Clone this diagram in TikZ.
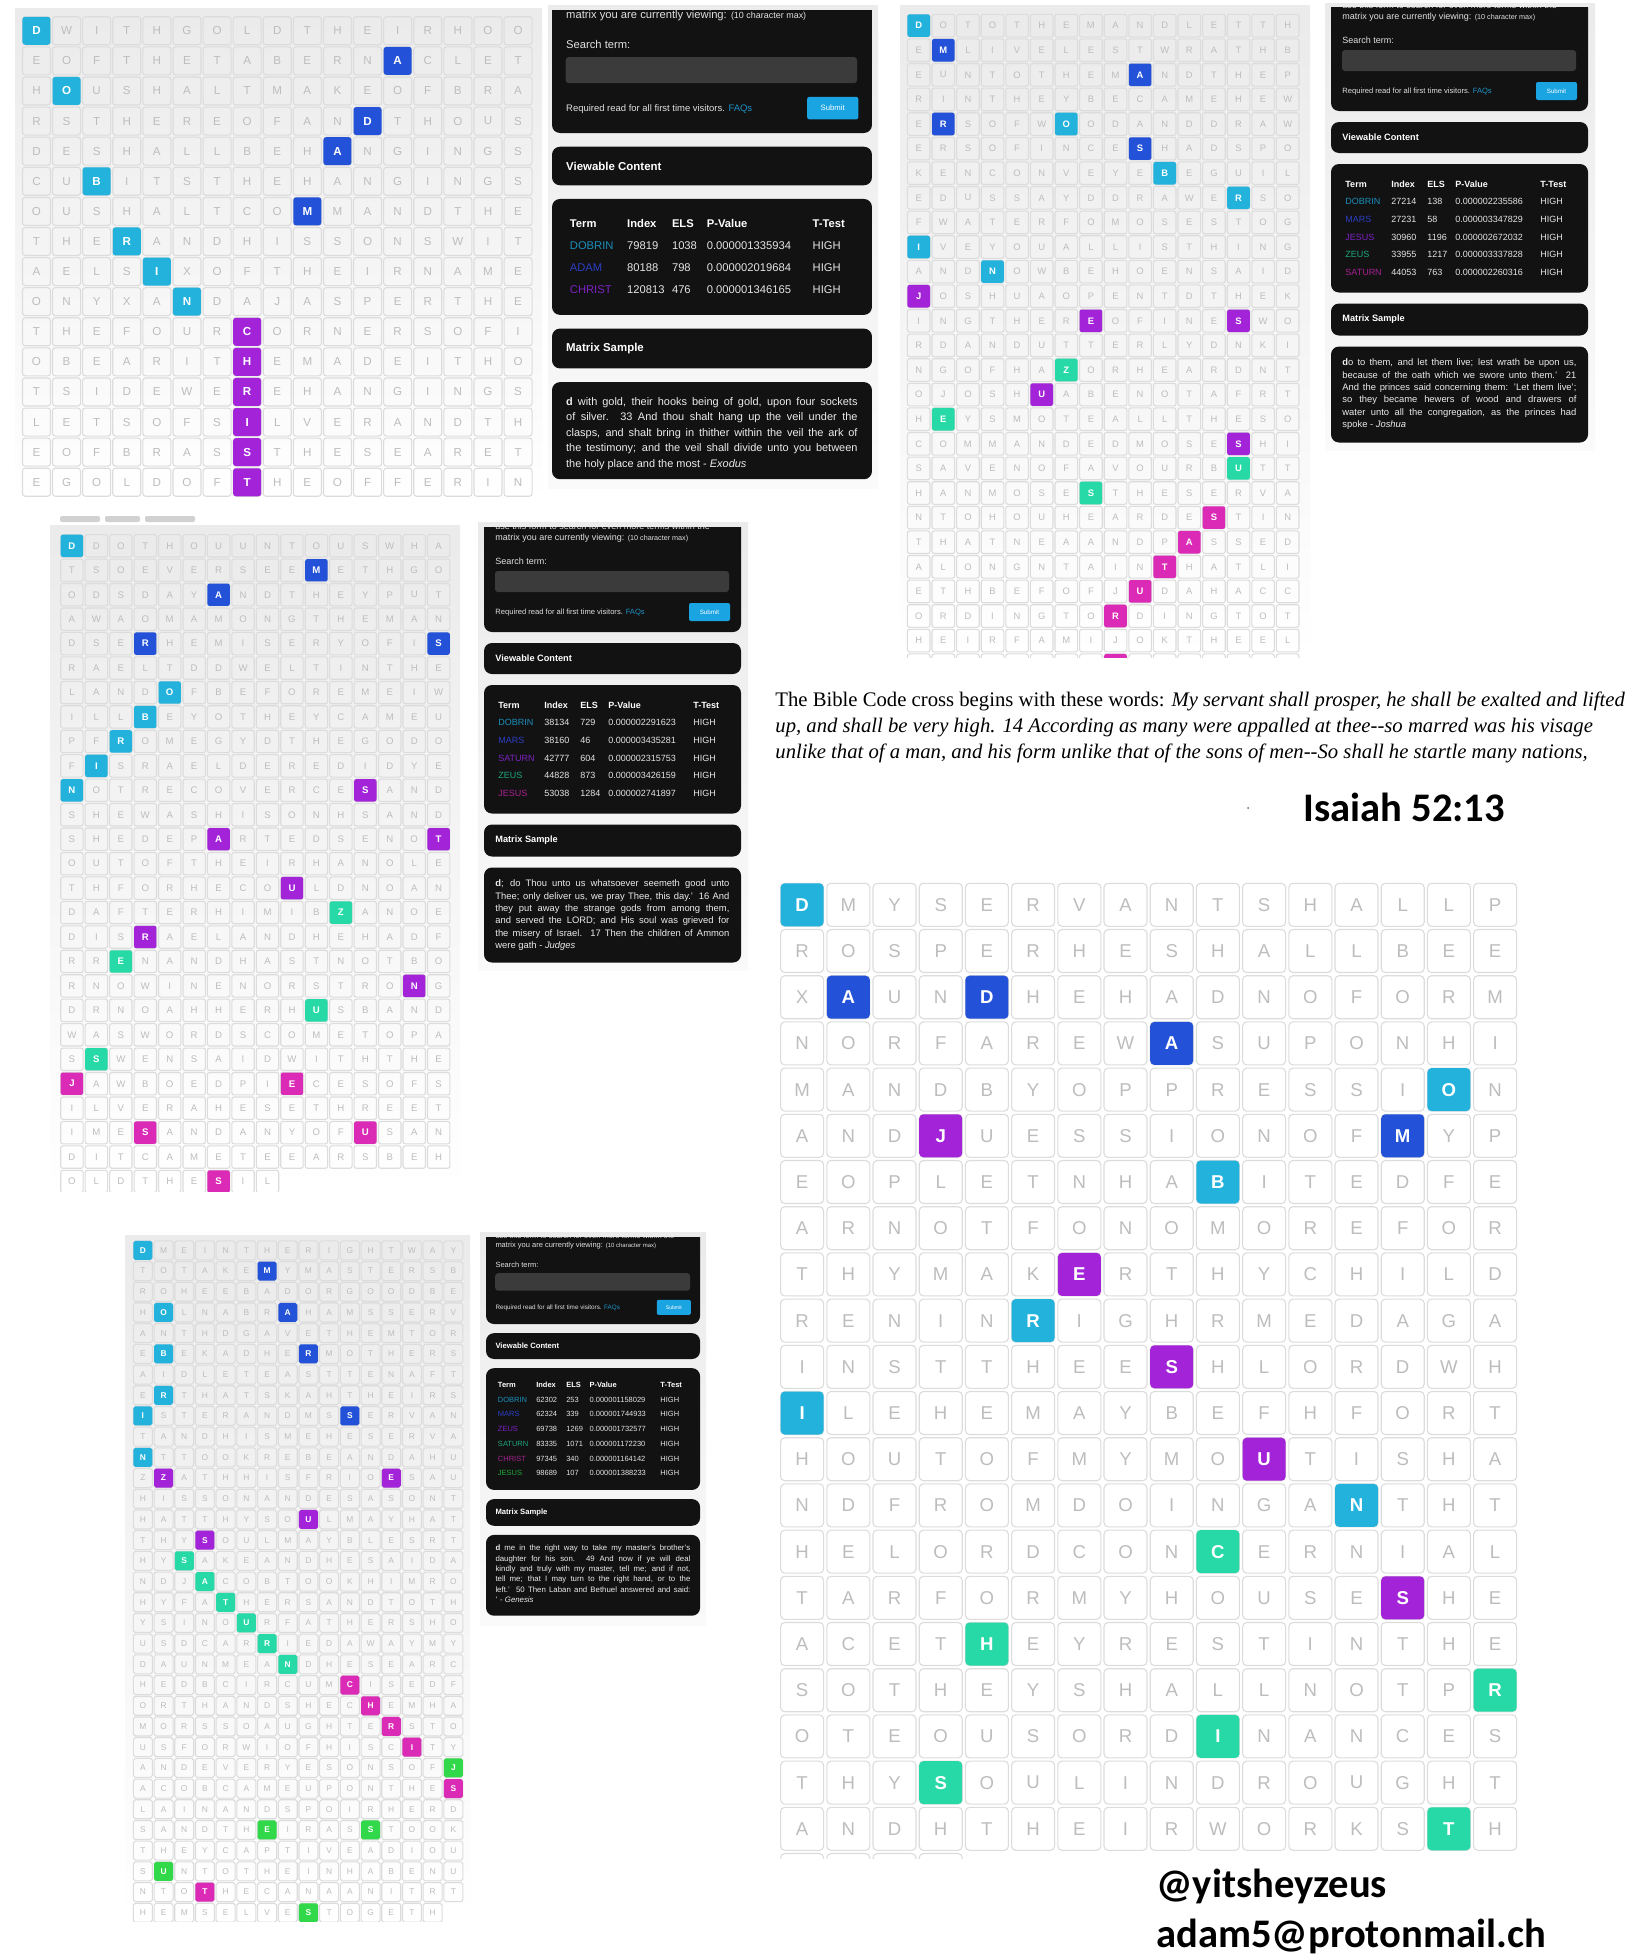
\documentclass[tikz,border=0pt]{standalone}
\usepackage{fontspec}
\setmainfont{Liberation Serif}
\setsansfont{Liberation Sans}
\newfontfamily\calibfont{Carlito}
\usetikzlibrary{positioning}

\definecolor{cellline}{HTML}{DCDCDC}
\definecolor{lettergray}{HTML}{BDBDBD}
\definecolor{dobrinC}{HTML}{22B2DC}
\definecolor{blueC}{HTML}{2352D8}
\definecolor{purpleC}{HTML}{A323D9}
\definecolor{tealC}{HTML}{26D9A6}
\definecolor{magentaC}{HTML}{DB2BB6}
\definecolor{greenC}{HTML}{30D84A}
\definecolor{panelbg}{HTML}{121212}
\definecolor{fieldbg}{HTML}{3B3B3B}
\definecolor{submitC}{HTML}{1AA4E2}
\definecolor{faqC}{HTML}{1E93C6}
% colours of the terms in the tables
\definecolor{dobrinT}{HTML}{1B8FBC}
\definecolor{blueT}{HTML}{2C3FC4}
\definecolor{purpleT}{HTML}{7E22C4}
\definecolor{tealT}{HTML}{1EA880}
\definecolor{magentaT}{HTML}{A82192}
\definecolor{greenT}{HTML}{22A838}

\newcount\gcol
\def\putletters#1{%
  \ifx#1\relax\else
    \global\advance\gcol by 1
    \node[gridcell] (\gname-\r-\the\gcol) at ({\gx+(\the\gcol-0.5)*\gp},{\gy+(\r-0.5)*\gp}) {#1};%
    \expandafter\putletters
  \fi}

% #1 name, #2 x, #3 y, #4 pitch, #5 cell size, #6 font size, #7 rows, #8 marked cells
\newcommand\lettergrid[8]{%
  \def\gname{#1}\def\gx{#2}\def\gy{#3}\def\gp{#4}\def\gs{#5pt}\def\gf{#6}%
  \pgfmathsetmacro\grad{#4*0.045}%
  \foreach \rowtext [count=\r] in {#7} {\global\gcol=0 \expandafter\putletters\rowtext\relax}
  \foreach \c/\r/\hc/\ch in {#8} {\node[hicell=\hc] (\gname-hi-\r-\c) at ({\gx+(\c-0.5)*\gp},{\gy+(\r-0.5)*\gp}) {\ch};}
}

\tikzset{
  gridcell/.style={draw=cellline, line width=0.55pt, rounded corners=\grad pt, minimum size=\gs, inner sep=0pt, text=lettergray, font=\sffamily\fontsize{\gf}{\gf}\selectfont},
  hicell/.style={fill=#1, rounded corners=\grad pt, minimum size=\gs, inner sep=0pt, text=white, font=\sffamily\bfseries\fontsize{\gf}{\gf}\selectfont},
  panelbox/.style={fill=panelbg, rounded corners=4pt},
  formtext/.style={text=white!88!black, font=\sffamily\fontsize{4.5}{5}\selectfont, inner sep=0pt, anchor=west},
  notetext/.style={text=white!88!black, font=\sffamily\fontsize{3.8}{4.5}\selectfont, inner sep=0pt, anchor=west},
  titletext/.style={text=white, font=\sffamily\bfseries\fontsize{4.6}{5}\selectfont, inner sep=0pt, anchor=west},
  headtext/.style={text=white, font=\sffamily\bfseries\fontsize{4.5}{5}\selectfont, inner sep=0pt, anchor=west},
  celltext/.style={text=white!90!black, font=\sffamily\fontsize{4.5}{5}\selectfont, inner sep=0pt, anchor=west},
  sampletext/.style={text=white!92!black, font=\sffamily\fontsize{4.7}{6.2}\selectfont, inner sep=0pt, anchor=north west, text width=117pt, align=justify},
  quote/.style={font=\fontsize{10.35}{12}\selectfont, inner sep=0pt, anchor=base west},
  tagtext/.style={font=\calibfont\bfseries\fontsize{20.3}{24}\selectfont, inner sep=0pt, anchor=base west}
}

% #1 name, #2 x, #3 y, #4 scale, #5 visible height of top box, #6 rows, #7 table, #8 sample height, #9 sample
\newcommand\sitepanel[9]{%
\begin{scope}[shift={(#2,#3)}, scale=#4, transform shape]
  \pgfmathsetmacro\tb{93+#6*17.7}
  \begin{scope}
    \clip (-5,-#5) rectangle (262,5);
    \fill[panelbox] (0,-140) rectangle (257,0);
    \node[formtext] (#1-use) at (11,-106) {use this form to search for even more terms within the};
    \node[formtext] (#1-view) at (11,-94) {matrix you are currently viewing: {\fontsize{3.6}{4}\selectfont (10 character max)}};
  \end{scope}
  \node[formtext] (#1-search) at (11,-71) {Search term:};
  \fill[fieldbg, rounded corners=1.5pt] (11,-61) rectangle (245,-40);
  \node[notetext] (#1-faq) at (11,-19) {Required read for all first time visitors. \textcolor{faqC}{FAQs}};
  \node[fill=submitC, rounded corners=1pt, minimum width=20.5pt, minimum height=9pt, inner sep=0pt, text=white, font=\sffamily\fontsize{3.1}{3.5}\selectfont] (#1-submit) at (225.5,-20) {Submit};
  \fill[panelbox] (0,11) rectangle (257,42);
  \node[titletext] (#1-vc) at (11,26.5) {Viewable Content};
  \fill[panelbox] (0,53) rectangle (257,\tb);
  \node[headtext] (#1-h1) at (14,73) {Term};
  \node[headtext] (#1-h2) at (60,73) {Index};
  \node[headtext] (#1-h3) at (96,73) {ELS};
  \node[headtext] (#1-h4) at (124,73) {P-Value};
  \node[headtext] (#1-h5) at (209,73) {T-Test};
  \foreach \term/\tc/\idx/\els/\pv [count=\i] in {#7} {
    \node[celltext, text=\tc] (#1-t\i) at (14,{73+\i*17.7}) {\term};
    \node[celltext] (#1-i\i) at (60,{73+\i*17.7}) {\idx};
    \node[celltext] (#1-e\i) at (96,{73+\i*17.7}) {\els};
    \node[celltext] (#1-p\i) at (124,{73+\i*17.7}) {\pv};
    \node[celltext] (#1-x\i) at (209,{73+\i*17.7}) {HIGH};
  }
  \fill[panelbox] (0,\tb+11) rectangle (257,\tb+43);
  \node[titletext] (#1-ms) at (11,\tb+27) {Matrix Sample};
  \fill[panelbox] (0,\tb+54) rectangle (257,\tb+54+#8);
  \node[sampletext] (#1-text) at (11,\tb+66) {#9};
\end{scope}}

\begin{document}
\begin{tikzpicture}[x=0.5pt, y=-0.5pt]
\useasboundingbox (0,0) rectangle (1636,1960);
\fill[white] (0,0) rectangle (1636,1960);

% light page backgrounds
\shade[top color=black!8, bottom color=white] (15,8) rectangle (542,505);
\shade[top color=black!8, bottom color=black!2] (548,5) rectangle (878,488);
\shade[top color=black!8, bottom color=white] (900,5) rectangle (1310,660);
\shade[top color=black!8, bottom color=black!2] (1325,3) rectangle (1595,450);
\shade[top color=black!8, bottom color=white] (50,525) rectangle (460,1192);
\shade[top color=black!8, bottom color=black!2] (478,522) rectangle (748,970);
\shade[top color=black!8, bottom color=white] (125,1235) rectangle (470,1921);
\shade[top color=black!8, bottom color=black!2] (480,1232) rectangle (706,1625);

% top left matrix
\lettergrid{tl}{21.4}{15.7}{30.1}{14}{5.8}{
DWITHGOLDTHEIRHOO,EOFTHETABERNACLET,HOUSHALTMAKEOFBRA,RSTHEREOFANDTHOUS,
DESHALLBEHANGINGS,CUBITSTHEHANGINGS,OUSHALTCOMMANDTHE,THERANDHISSONSWIT,
AELSIXOFTHEIRNAME,ONYXANDAJASPERTHE,THEFOURCORNERSOFI,OBEARITHEMADEITHO,
TSIDEWEREHANGINGS,LETSOFSILVERANDTH,EOFBRASSTHESEARET,EGOLDOFTHEOFFERIN}{
1/1/dobrinC/D,2/3/dobrinC/O,3/6/dobrinC/B,4/8/dobrinC/R,5/9/dobrinC/I,6/10/dobrinC/N,
13/2/blueC/A,12/4/blueC/D,11/5/blueC/A,10/7/blueC/M,
8/11/purpleC/C,8/12/purpleC/H,8/13/purpleC/R,8/14/purpleC/I,8/15/purpleC/S,8/16/purpleC/T}

\sitepanel{tlp}{552}{133}{1.245}{98}{3}{
DOBRIN/dobrinT/79819/1038/0.000001335934,
ADAM/blueT/80188/798/0.000002019684,
CHRIST/purpleT/120813/476/0.000001346165}{78}{\fontsize{4.4}{5.75}\selectfont
\textbf{d} with gold, their hooks being of gold, upon four sockets\linebreak
of silver. 33 And thou shalt hang up the veil under the\linebreak
clasps, and shalt bring in thither within the veil the ark of\linebreak
the testimony; and the veil shall divide unto you between\linebreak
the holy place and the most - \textit{Exodus}}

% top right matrix
\begin{scope}
\clip (900,0) rectangle (1310,657);
\lettergrid{tr}{906.4}{13.3}{24.6}{11.3}{4.7}{
DOTOTHEMANDLETTH,EMLIVELESTWRATHB,EUNTOTHEMANDTHEP,RINTHEYBECAMEHEW,
ERSOFWOODANDDRAW,ERSOFINCESHADSPO,KENCONVEYEBEGUIL,EDUSSAYDDRAWERSO,
FWATERFOMOSESTOG,IVEYOUALLISTHING,ANDNOWBEHOENSAID,JOSHUAOPENTDTHEK,
INGTHEREOFINESWO,RDANDUTTERLYDNKI,NGOFHAZORHEARDNT,OJOSHUABENOTAFRT,
HEYSMOTEALLTHESO,COMMANDEDMOSESHI,SAVENOFAVOURBUTT,HANMOSESTHESERVA,
NTOHOUHEARDESTIN,THATNEAANDPASSED,ALONGNTAINTHATLI,ETHBEFOFJUDAHACC,
ORDINGTORDINGTOT,HEIRFAMIJOKTHEEL}{
1/1/dobrinC/D,7/5/dobrinC/O,11/7/dobrinC/B,14/8/dobrinC/R,1/10/dobrinC/I,4/11/dobrinC/N,
2/2/blueC/M,10/3/blueC/A,2/5/blueC/R,10/6/blueC/S,
1/12/purpleC/J,8/13/purpleC/E,14/13/purpleC/S,6/16/purpleC/U,14/18/purpleC/S,
7/15/tealC/Z,2/17/tealC/E,14/19/tealC/U,8/20/tealC/S,
13/21/magentaC/S,12/22/magentaC/A,11/23/magentaC/T,10/24/magentaC/U,9/25/magentaC/R}
\foreach \c in {1,...,16}
  \node[gridcell] (tr-27-\c) at ({906.4+(\c-0.5)*24.6},{13.3+26.5*24.6}) {};
\node[hicell=magentaC] (tr-hi-27-9) at ({906.4+8.5*24.6},{13.3+26.5*24.6}) {};
\end{scope}

\sitepanel{trp}{1331}{111}{1}{104}{5}{
DOBRIN/dobrinT/27214/138/0.000002235586,
MARS/blueT/27231/58/0.000003347829,
JESUS/purpleT/30960/1196/0.000002672032,
ZEUS/tealT/33955/1217/0.000003337828,
SATURN/magentaT/44053/763/0.000002260316}{96}{%
\textbf{d}o to them, and let them live; lest wrath be upon us,\linebreak
because of the oath which we swore unto them.' 21\linebreak
And the princes said concerning them: 'Let them live';\linebreak
so they became hewers of wood and drawers of\linebreak
water unto all the congregation, as the princes had\linebreak
spoke - \textit{Joshua}}

% middle left matrix
\fill[black!18, rounded corners=1pt] (60,516) rectangle (100,522);
\fill[black!18, rounded corners=1pt] (105,516) rectangle (140,522);
\fill[black!18, rounded corners=1pt] (145,516) rectangle (195,522);
\begin{scope}
\clip (50,525) rectangle (460,1191);
\lettergrid{ml}{59.7}{533.6}{24.45}{11.2}{4.8}{
DDOTHOUUNTOUSWHA,TSOEVERSEEMETHGO,ODSDAYANDTHEYPUT,AWAOMAMONGTHEMAN,
DSERHEMISERYOFIS,RAELTDDWELTINTHE,LANDOFBEFOREMEIW,ILLBEYOTHEYCAMEU,
PFROMEGYDTHEGODO,FISRAELDEREDIDYE,NOTRECOVERCESAND,SHEWASHISONHSAND,
SHEDEPARTEDSENOT,OUTOFTHEIRHANOLE,THFORHECOULDNOAN,DAFTERHIMIBZANOE,
DISRAELANDHEHADF,RRENANDHASTNOTBO,RNOWINENORSTRONG,DRNOAHHERHUSBAND,
WASWORDSCOMETOPA,SSWENSAIDWITHTHE,JAWBOEDPIECESOFS,ILVERAHESETHREET,
IMESANDANYOFUSAN,DITCAMETEEARSBEH,OLDTHESIL}{
1/1/dobrinC/D,5/7/dobrinC/O,4/8/dobrinC/B,3/9/dobrinC/R,2/10/dobrinC/I,1/11/dobrinC/N,
11/2/blueC/M,7/3/blueC/A,4/5/blueC/R,16/5/blueC/S,
13/11/purpleC/S,7/13/purpleC/A,16/13/purpleC/T,10/15/purpleC/U,4/17/purpleC/R,15/19/purpleC/N,
12/16/tealC/Z,3/18/tealC/E,11/20/tealC/U,2/22/tealC/S,
1/23/magentaC/J,10/23/magentaC/E,4/25/magentaC/S,13/25/magentaC/U,7/27/magentaC/S}
\end{scope}

\sitepanel{mlp}{484}{632}{1}{105}{5}{
DOBRIN/dobrinT/38134/729/0.000002291623,
MARS/blueT/38160/46/0.000003435281,
SATURN/purpleT/42777/604/0.000002315753,
ZEUS/tealT/44828/873/0.000003426159,
JESUS/magentaT/53038/1284/0.000002741897}{95}{%
\textbf{d}; do Thou unto us whatsoever seemeth good unto\linebreak
Thee; only deliver us, we pray Thee, this day.' 16 And\linebreak
they put away the strange gods from among them,\linebreak
and served the LORD; and His soul was grieved for\linebreak
the misery of Israel. 17 Then the children of Ammon\linebreak
were gath - \textit{Judges}}

% bottom left matrix
\begin{scope}
\clip (125,1235) rectangle (470,1921);
\lettergrid{bl}{132.5}{1240}{20.7}{9.5}{4.2}{
DMEINTHERIGHTWAY,TOTAKEMYMASTERSB,ROHEEBADORGOODBE,HOLNABRAHAMSSERV,
ANTHDGAVETHEMTOR,EBEKADHERMOTHERS,AIDLETEASTTENAFT,ERTHATSKAHTHEIRS,
ISTERANDMSSERVAN,TANDHISMEHESERVA,NTTOOKREBEANDAHU,ZZATHHISFRIOESAU,
HISSONANDESASONT,HATTHYSOULMAYHAT,THYSOULMAYBLESRT,HYSAKEANDHESAIDA,
NDJACOBTOOKHIMRO,HYFATHERSANDTOTH,YSINOURFATHERSHO,USDCARRIEDAWAYMY,
DAUNMEANDHESEARC,HEDBCIRCUMCISEDF,ORTHANDSHECHEMHA,MORSSOAUGHTERSTO,
USFORWIOFHISCITY,ANDEVERYESONSOFJ,ACOBCAMEUPONTHES,LAINANDSPOIRHERD,
SANDTHEIRASSTOOK,THEYCAPTIVEADIOU,SUNTOTHEINHABENU,NTOTHECANAANITRT,
HEMSELVESTOGETH}{
1/1/dobrinC/D,2/4/dobrinC/O,2/6/dobrinC/B,2/8/dobrinC/R,1/9/dobrinC/I,1/11/dobrinC/N,
7/2/blueC/M,8/4/blueC/A,9/6/blueC/R,11/9/blueC/S,
2/12/purpleC/Z,13/12/purpleC/E,9/14/purpleC/U,4/15/purpleC/S,
3/16/tealC/S,4/17/tealC/A,5/18/tealC/T,6/19/tealC/U,7/20/tealC/R,8/21/tealC/N,
11/22/magentaC/C,12/23/magentaC/H,13/24/magentaC/R,14/25/magentaC/I,16/27/magentaC/S,4/32/magentaC/T,
16/26/greenC/J,7/29/greenC/E,12/29/greenC/S,2/31/greenC/U,9/33/greenC/S}
\end{scope}

\sitepanel{blp}{486}{1324}{0.833}{104}{6}{
DOBRIN/dobrinT/62302/253/0.000001158029,
MARS/blueT/62324/339/0.000001744933,
ZEUS/purpleT/69738/1269/0.000001732577,
SATURN/tealT/83335/1071/0.000001172230,
CHRIST/magentaT/97345/340/0.000001164142,
JESUS/greenT/98689/107/0.000001388233}{97}{%
\textbf{d} me in the right way to take my master's brother's\linebreak
daughter for his son. 49 And now if ye will deal\linebreak
kindly and truly with my master, tell me; and if not,\linebreak
tell me; that I may turn to the right hand, or to the\linebreak
left.' 50 Then Laban and Bethuel answered and said:\linebreak
' - \textit{Genesis}}

% the quoted verse
\node[quote] (q1) at (775,706) {The Bible Code cross begins with these words: \textit{My servant shall prosper, he shall be exalted and lifted}};
\node[quote] (q2) at (775,732) {\textit{up, and shall be very high. 14 According as many were appalled at thee-{}-so marred was his visage}};
\node[quote] (q3) at (775,758) {\textit{unlike that of a man, and his form unlike that of the sons of men-{}-So shall he startle many nations,}};
\fill[black!60] (1248,808) circle (1);
\node[tagtext] (verse) at (1303,821) {Isaiah 52:13};

% big matrix
\begin{scope}
\clip (770,870) rectangle (1530,1858);
\lettergrid{big}{779}{881.7}{46.2}{21.5}{9.3}{
DMYSERVANTSHALLP,ROSPERHESHALLBEE,XAUNDHEHADNOFORM,NORFAREWASUPONHI,
MANDBYOPPRESSION,ANDJUESSIONOFMYP,EOPLETNHABITEDFE,ARNOTFONOMOREFOR,
THYMAKERTHYCHILD,RENINRIGHRMEDAGA,INSTTHEESHLORDWH,ILEHEMAYBEFHFORT,
HOUTOFMYMOUTISHA,NDFROMDOINGANTHT,HELORDCONCERNIAL,TARFORMYHOUSESHE,
ACETHEYRESTINTHE,SOTHEYSHALLNOTPR,OTEOUSORDINANCES,THYSOULINDROUGHT,
ANDHTHEIRWORKSTH}{
1/1/dobrinC/D,15/5/dobrinC/O,10/7/dobrinC/B,6/10/dobrinC/R,1/12/dobrinC/I,13/14/dobrinC/N,
2/3/blueC/A,5/3/blueC/D,9/4/blueC/A,14/6/blueC/M,
4/6/purpleC/J,7/9/purpleC/E,9/11/purpleC/S,11/13/purpleC/U,14/16/purpleC/S,
10/15/tealC/C,5/17/tealC/H,16/18/tealC/R,10/19/tealC/I,4/20/tealC/S,15/21/tealC/T}
\foreach \c in {1,...,4}
  \node[gridcell] (big-22-\c) at ({779+(\c-0.5)*46.2},{881.7+21.5*46.2}) {};
\end{scope}

% contact
\node[tagtext] (handle) at (1156,1897) {@yitsheyzeus};
\node[tagtext] (mail) at (1156,1947) {adam5@protonmail.ch};
\end{tikzpicture}
\end{document}
